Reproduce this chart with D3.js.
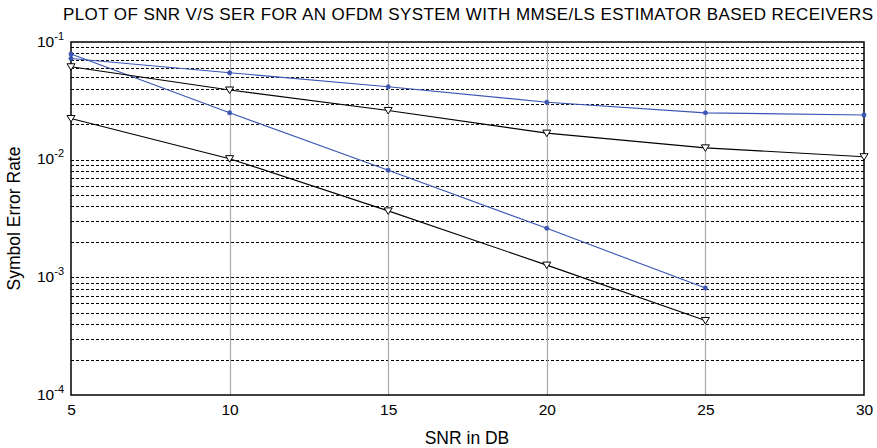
<!DOCTYPE html>
<html lang="en">
<head>
    <meta charset="UTF-8">
    <title>SNR v/s SER</title>
    <script src="https://cdn.jsdelivr.net/npm/d3@7/dist/d3.min.js"></script>
    <style>
        body { margin: 0; background: #fff; }
        text { font-family: "Liberation Sans", Arial, sans-serif; }
    </style>
</head>
<body>
<script>

    var width = 877;
    var height = 448;

    // SNR values (dB)
    var snr = [5, 10, 15, 20, 25, 30];
    var xTicks = [5, 10, 15, 20, 25, 30];
    var yDecades = [-4, -3, -2, -1];

    // blue curves (star markers)
    var blueFlat = [0.0724, 0.0548, 0.0417, 0.0308, 0.0250, 0.0240];
    var blueSteep = [0.079, 0.0250, 0.00814, 0.00261, 0.00081];
    // black curves (triangle markers)
    var blackUpper = [0.0616, 0.0391, 0.0262, 0.0168, 0.0126, 0.0106];
    var blackLower = [0.0224, 0.0102, 0.00367, 0.00127, 0.00043];

    var series = [
        {values: blueFlat, color: '#3a55b4', marker: 'star'},
        {values: blueSteep, color: '#3a55b4', marker: 'star'},
        {values: blackUpper, color: '#000', marker: 'tri'},
        {values: blackLower, color: '#000', marker: 'tri'}
    ];

    var mLeft = 71, mRight = 864, mTop = 42, mBottom = 395;

    var svg = d3.select('body')
        .append('svg')
        .attr('width', width)
        .attr('height', height);

    var x = d3.scaleLinear().domain([5, 30]).range([mLeft, mRight]);
    var y = d3.scaleLog().domain([1e-4, 1e-1]).range([mBottom, mTop]);

    // horizontal dashed grid at every log tick
    var gridVals = [];
    yDecades.slice(0, 3).forEach(function (e) {
        for (var m = 1; m <= 9; m++) {
            if (e === -4 && m === 1) continue;
            gridVals.push(m * Math.pow(10, e));
        }
    });

    svg.append('g')
        .selectAll('line')
        .data(gridVals)
        .enter()
        .append('line')
        .attr('x1', mLeft)
        .attr('x2', mRight)
        .attr('y1', function (d) { return Math.round(y(d)) + 0.5; })
        .attr('y2', function (d) { return Math.round(y(d)) + 0.5; })
        .attr('stroke', '#000')
        .attr('stroke-width', 1)
        .attr('stroke-dasharray', '3,2');

    // vertical grid
    svg.append('g')
        .selectAll('line')
        .data(xTicks.slice(1, 5))
        .enter()
        .append('line')
        .attr('x1', function (d) { return Math.round(x(d)) + 0.5; })
        .attr('x2', function (d) { return Math.round(x(d)) + 0.5; })
        .attr('y1', mTop)
        .attr('y2', mBottom)
        .attr('stroke', '#aaa')
        .attr('stroke-width', 1.2);

    // box
    svg.append('rect')
        .attr('x', mLeft)
        .attr('y', mTop)
        .attr('width', mRight - mLeft)
        .attr('height', mBottom - mTop)
        .attr('fill', 'none')
        .attr('stroke', '#000')
        .attr('stroke-width', 1.5);

    // x axis
    var xAxis = d3.axisBottom(x)
        .tickValues(xTicks)
        .tickSize(0)
        .tickPadding(9);

    var gx = svg.append('g')
        .attr('transform', 'translate(0,' + mBottom + ')')
        .call(xAxis);
    gx.select('.domain').remove();
    gx.selectAll('text')
        .attr('font-size', 15.5)
        .attr('fill', '#000')
        .style('font-family', '"Liberation Sans", Arial, sans-serif');

    // y tick labels 10^n
    var yLab = svg.append('g')
        .selectAll('text')
        .data(yDecades)
        .enter()
        .append('text')
        .attr('x', mLeft - 7)
        .attr('y', function (d) { return y(Math.pow(10, d)) + 4.5; })
        .attr('text-anchor', 'end')
        .attr('font-size', 15.5)
        .attr('fill', '#000');
    yLab.append('tspan').text('10');
    yLab.append('tspan')
        .attr('dy', -7)
        .attr('font-size', 11)
        .text(function (d) { return d; });

    // lines
    var line = d3.line()
        .x(function (d, i) { return x(snr[i]); })
        .y(function (d) { return y(d); });

    series.forEach(function (s) {
        svg.append('path')
            .datum(s.values)
            .attr('d', line)
            .attr('fill', 'none')
            .attr('stroke', s.color)
            .attr('stroke-width', 1.1);

        var g = svg.append('g');
        g.selectAll('path')
            .data(s.values)
            .enter()
            .append('path')
            .attr('transform', function (d, i) {
                return 'translate(' + x(snr[i]) + ',' + y(d) + ')';
            })
            .attr('d', s.marker === 'tri'
                ? 'M-4,-3L4,-3L0,3.5Z'
                : 'M-2.5,0L2.5,0M0,-2.5L0,2.5M-1.8,-1.8L1.8,1.8M-1.8,1.8L1.8,-1.8')
            .attr('fill', s.marker === 'tri' ? '#fff' : 'none')
            .attr('stroke', s.color)
            .attr('stroke-width', s.marker === 'tri' ? 1 : 1.3);
    });

    // title and labels
    svg.append('text')
        .attr('x', 468)
        .attr('y', 19.5)
        .attr('text-anchor', 'middle')
        .attr('font-size', 17)
        .attr('textLength', 810)
        .attr('lengthAdjust', 'spacing')
        .text('PLOT OF SNR V/S SER FOR AN OFDM SYSTEM WITH MMSE/LS ESTIMATOR BASED RECEIVERS');

    svg.append('text')
        .attr('x', 467)
        .attr('y', 444)
        .attr('text-anchor', 'middle')
        .attr('font-size', 17.5)
        .text('SNR in DB');

    svg.append('text')
        .attr('transform', 'translate(19.5,' + ((mTop + mBottom) / 2) + ') rotate(-90)')
        .attr('text-anchor', 'middle')
        .attr('font-size', 17.5)
        .text('Symbol Error Rate');

</script>
</body>
</html>
